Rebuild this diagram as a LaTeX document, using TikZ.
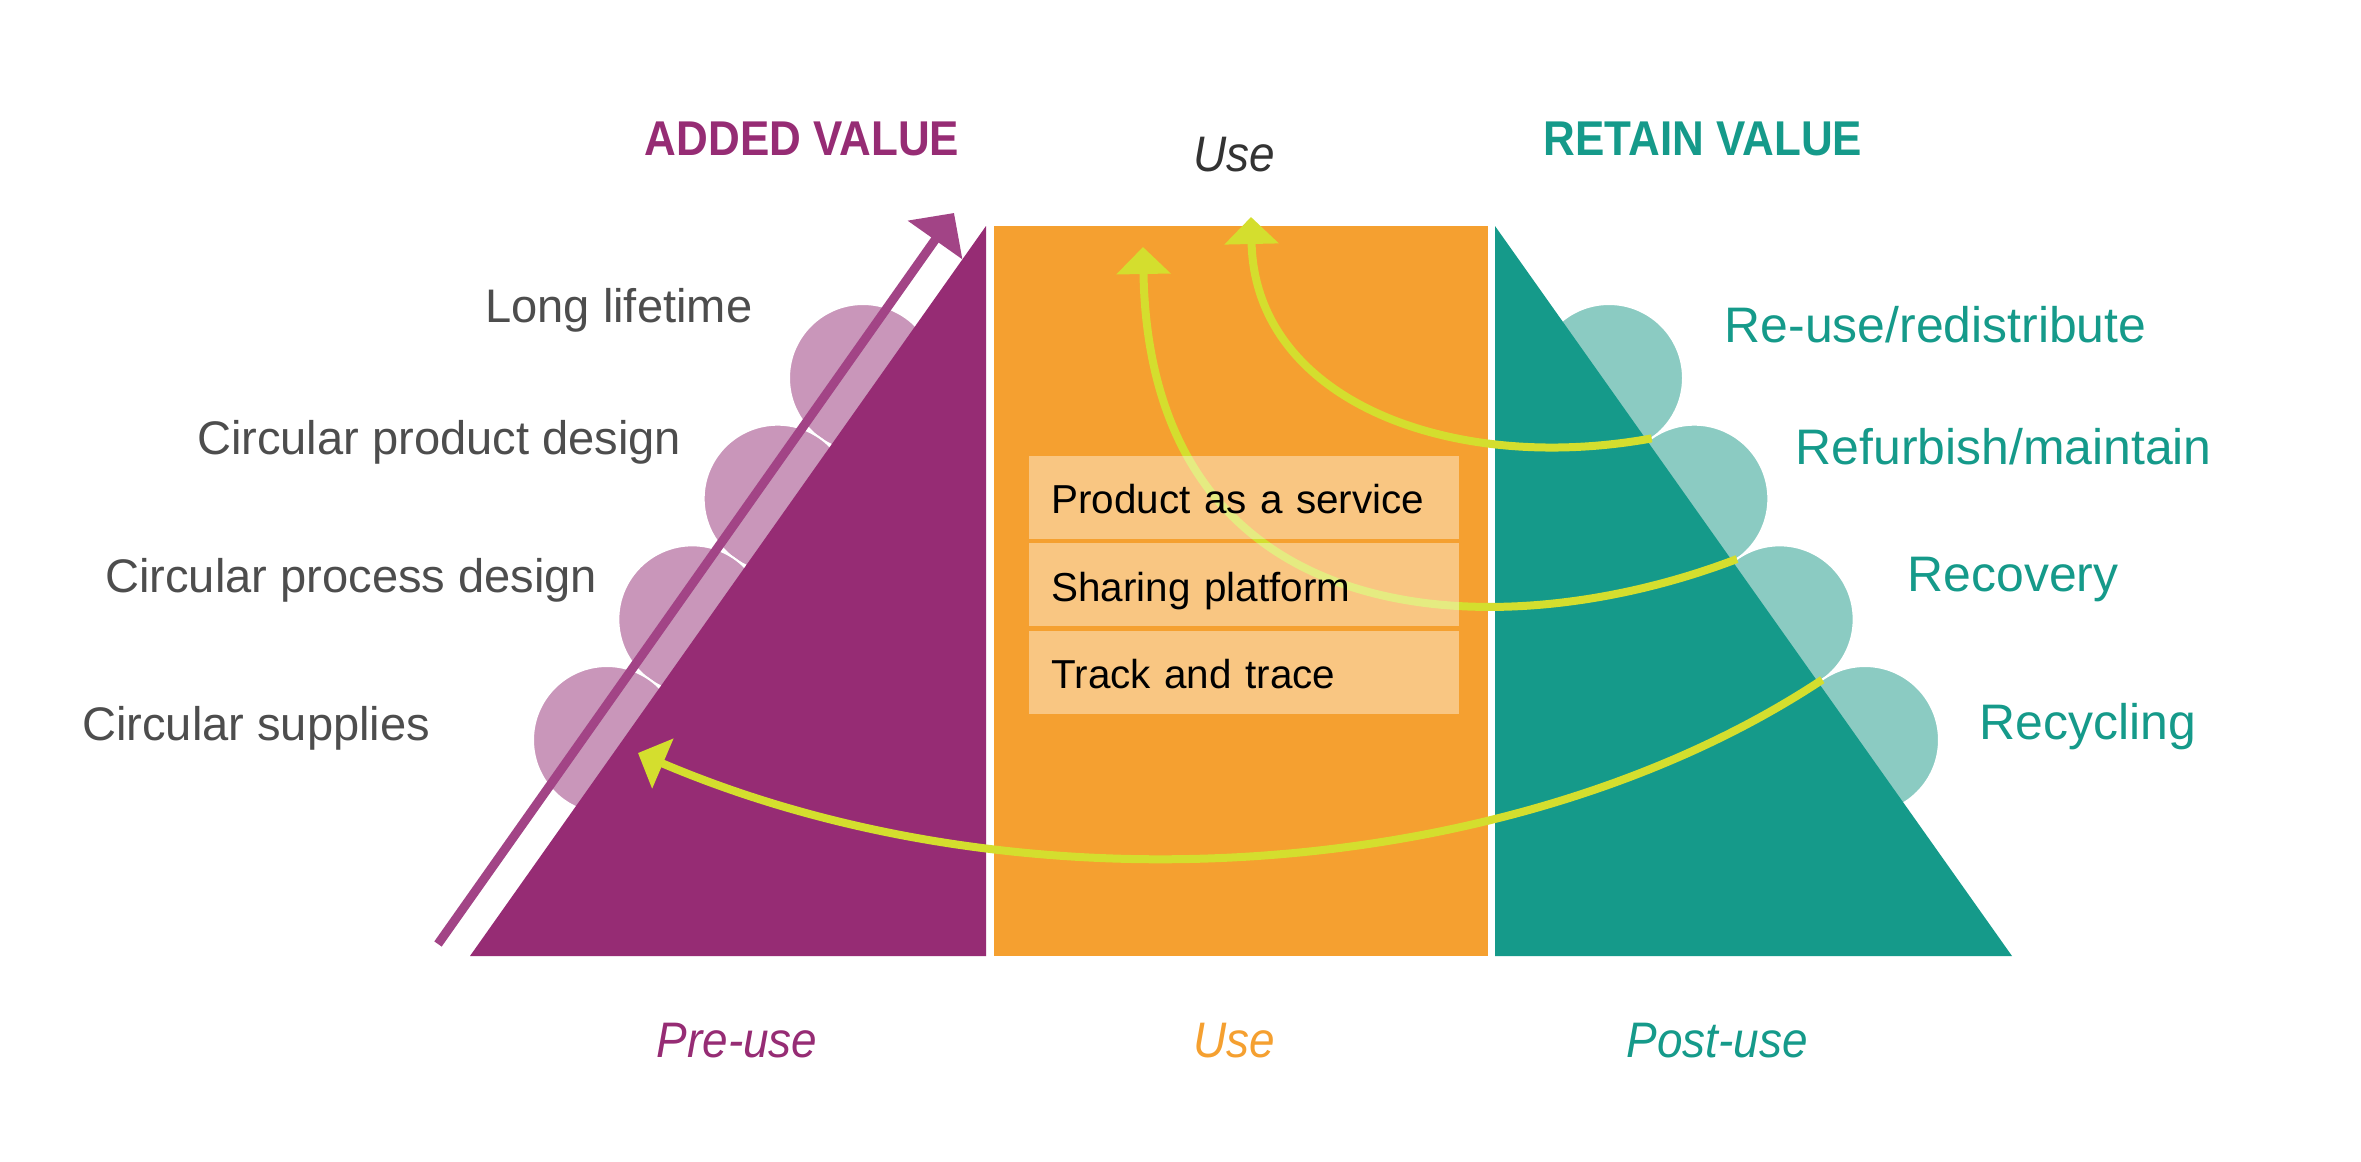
\documentclass[tikz,border=0pt]{standalone}
\usepackage{fontspec}
\setmainfont{Liberation Sans}
\newfontfamily\headfont[FakeStretch=0.9]{Liberation Sans}
\newfontfamily\phasefont[FakeStretch=0.92]{Liberation Sans}
\usepackage{tikz}
\usetikzlibrary{arrows.meta,positioning,calc}
\definecolor{prepurple}{RGB}{150,44,116}
\definecolor{risepurple}{RGB}{162,68,134}
\definecolor{lightpurple}{RGB}{201,150,186}
\definecolor{useorange}{RGB}{245,160,48}
\definecolor{postteal}{RGB}{21,154,138}
\definecolor{lightteal}{RGB}{139,203,194}
\definecolor{flowyellow}{RGB}{212,222,46}
\definecolor{labelgrey}{RGB}{77,77,77}
\definecolor{darkgrey}{RGB}{51,51,51}

\begin{document}
\begin{tikzpicture}[x=0.1mm,y=-0.1mm,
  side/.style={inner sep=0, text=labelgrey,
    font=\fontsize{13.4}{16}\selectfont},
  retain/.style={inner sep=0, text=postteal,
    font=\fontsize{14.2}{17}\selectfont},
  head/.style={inner sep=0, anchor=base,
    font=\headfont\bfseries\fontsize{13.9}{17}\selectfont},
  phase/.style={inner sep=0, anchor=base,
    font=\phasefont\itshape\fontsize{14.2}{17}\selectfont},
  offer/.style={fill=white, fill opacity=0.4, text opacity=1,
    minimum width=43mm, minimum height=8.3mm, text width=38.4mm,
    inner xsep=2.3mm, inner ysep=0, align=left, text=black,
    text height=1em, text depth=0.08em,
    font=\fontsize{11.5}{14}\selectfont},
  backflow/.style={draw=flowyellow, line width=0.8mm,
    -{Triangle[width=5.3mm,length=2.7mm]}},
  rise/.style={draw=risepurple, line width=0.9mm,
    -{Triangle[width=6.5mm,length=3.3mm]}}
]
  \useasboundingbox[fill=white] (0,0) rectangle (2361,1162);

  \foreach \k in {0,1,2,3}{
    \filldraw[fill=lightpurple, draw=white, line width=0.2mm]
      (863-85.33*\k, 378+120.67*\k) circle (7.4mm);
    \filldraw[fill=lightteal, draw=white, line width=0.2mm]
      (1609+85.33*\k, 378+120.67*\k) circle (7.4mm);
  }

  \fill[prepurple] (470,956) -- (986,226) -- (986,956) -- cycle;
  \fill[useorange] (994,226) rectangle (1488,956);
  \fill[postteal] (1495,226) -- (2012,956) -- (1495,956) -- cycle;

  \coordinate (t1) at (1651.7,438.4);
  \coordinate (t2) at (1737,559);
  \coordinate (t3) at (1822.3,679.7);
  \coordinate (tipA) at (1251,217);
  \coordinate (tipB) at (1143,247);
  \coordinate (tipC) at (638,753);
  \draw[backflow] (t1) .. controls (1450,475) and (1255,400) .. (tipA);
  \draw[backflow] (t2) .. controls (1500,650) and (1150,640) .. (tipB);
  \draw[backflow] (t3) .. controls (1520,880) and (1030,920) .. (tipC);

  \node[offer] (svc) at (1243.5,497.5) {Product as a service};
  \node[offer, below=0.3mm of svc] (share) {Sharing platform};
  \node[offer, below=0.3mm of share] (track) {Track and trace};

  \coordinate (riseFoot) at (438,944);
  \coordinate (riseTip) at (954,213);
  \draw[rise] (riseFoot) -- (riseTip);

  \node[side, anchor=base east] (life) at (753,322) {Long lifetime};
  \node[side, anchor=base east] (prod) at (682,454) {Circular product design};
  \node[side, anchor=base east] (proc) at (598,592) {Circular process design};
  \node[side, anchor=base east] (supp) at (431,740) {Circular supplies};

  \node[retain, anchor=base west] (reuse) at (1724,342) {Re-use/redistribute};
  \node[retain, anchor=base west] (refurb) at (1795,464) {Refurbish/maintain};
  \node[retain, anchor=base west] (recov) at (1907,591) {Recovery};
  \node[retain, anchor=base west] (recyc) at (1979,739) {Recycling};

  \node[head, text=prepurple] (added) at (802,155) {ADDED VALUE};
  \node[head, text=postteal] (kept) at (1703,155) {RETAIN VALUE};
  \node[phase, text=darkgrey] (usetop) at (1234,171) {Use};

  \node[phase, text=prepurple] (pre) at (737,1057) {Pre-use};
  \node[phase, text=useorange] (use) at (1234,1057) {Use};
  \node[phase, text=postteal] (post) at (1717,1057) {Post-use};
\end{tikzpicture}
\end{document}
